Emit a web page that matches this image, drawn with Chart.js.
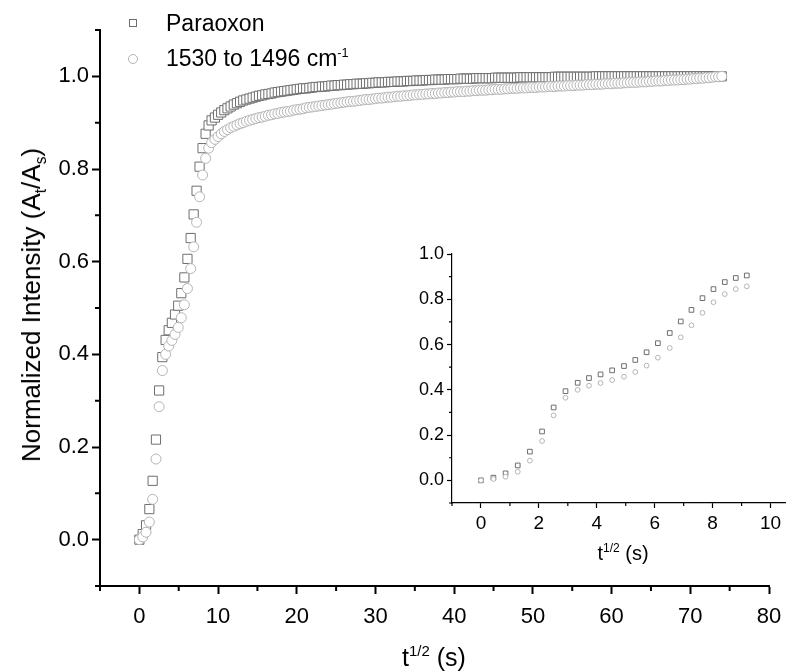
<!DOCTYPE html>
<html>
<head>
<meta charset="utf-8">
<script src="https://cdn.jsdelivr.net/npm/chart.js@4.4.1/dist/chart.umd.min.js"></script>
<style>
  html, body { margin: 0; padding: 0; background: #fff; }
  #wrap { position: relative; width: 792px; height: 672px; background: #fff; overflow: hidden;
          font-family: "Liberation Sans", Arial, sans-serif; color: #000; }
  canvas { position: absolute; }
  .lbl { position: absolute; white-space: nowrap; transform: translate(-50%, -50%); line-height: 1; }
  .lbl sup, .lbl sub { font-size: 60%; line-height: 0; }
  #yTitle { transform: translate(-50%, -50%) rotate(-90deg); }
  .leg { position: absolute; white-space: nowrap; font-size: 23px; line-height: 1; }
  .mk { position: absolute; box-sizing: border-box; background: #fff; }
</style>
</head>
<body>
<div id="wrap">
  <canvas id="mainChart" width="792" height="672" style="left:0;top:0"></canvas>
  <canvas id="insetChart" width="392" height="300" style="left:400px;top:236px"></canvas>

  <div class="lbl" id="xTitle" style="left:434px;top:657px;font-size:25px">t<sup>1/2</sup> (s)</div>
  <div class="lbl" id="yTitle" style="left:31px;top:305px;font-size:26px">Normalized Intensity (A<sub>t</sub>/A<sub>s</sub>)</div>
  <div class="lbl" id="insetTitle" style="left:623px;top:553px;font-size:20px">t<sup>1/2</sup> (s)</div>

  <div class="mk" id="mk0" style="left:129px;top:19px;width:8px;height:8px;border:1px solid #6e6e6e"></div>
  <div class="leg" id="leg0" style="left:166px;top:12px">Paraoxon</div>
  <div class="mk" id="mk1" style="left:128px;top:54px;width:10px;height:10px;border:1px solid #b4b4b4;border-radius:50%"></div>
  <div class="leg" id="leg1" style="left:166px;top:47px">1530 to 1496 cm<sup style="font-size:55%;vertical-align:super;line-height:0">-1</sup></div>
</div>

<script>
/* ===== data ===== */
// x = t^(1/2) (s), shared by both series
const xVals = [
  0, 0.43, 0.85, 1.27, 1.69, 2.11, 2.51, 2.92, 3.34, 3.73,
  4.13, 4.53, 4.94, 5.33, 5.72, 6.11, 6.52, 6.9, 7.27, 7.65,
  8.03, 8.42, 8.8, 9.18, 9.6, 10, 10.4, 10.8, 11.2, 11.6,
  12, 12.4, 12.8, 13.2, 13.6, 14, 14.4, 14.8, 15.2, 15.6,
  16, 16.4, 16.8, 17.2, 17.6, 18, 18.4, 18.8, 19.2, 19.6,
  20, 20.4, 20.8, 21.2, 21.6, 22, 22.4, 22.8, 23.2, 23.6,
  24, 24.4, 24.8, 25.2, 25.6, 26, 26.4, 26.8, 27.2, 27.6,
  28, 28.4, 28.8, 29.2, 29.6, 30, 30.4, 30.8, 31.2, 31.6,
  32, 32.4, 32.8, 33.2, 33.6, 34, 34.4, 34.8, 35.2, 35.6,
  36, 36.4, 36.8, 37.2, 37.6, 38, 38.4, 38.8, 39.2, 39.6,
  40, 40.4, 40.8, 41.2, 41.6, 42, 42.4, 42.8, 43.2, 43.6,
  44, 44.4, 44.8, 45.2, 45.6, 46, 46.4, 46.8, 47.2, 47.6,
  48, 48.4, 48.8, 49.2, 49.6, 50, 50.4, 50.8, 51.2, 51.6,
  52, 52.4, 52.8, 53.2, 53.6, 54, 54.4, 54.8, 55.2, 55.6,
  56, 56.4, 56.8, 57.2, 57.6, 58, 58.4, 58.8, 59.2, 59.6,
  60, 60.4, 60.8, 61.2, 61.6, 62, 62.4, 62.8, 63.2, 63.6,
  64, 64.4, 64.8, 65.2, 65.6, 66, 66.4, 66.8, 67.2, 67.6,
  68, 68.4, 68.8, 69.2, 69.6, 70, 70.4, 70.8, 71.2, 71.6,
  72, 72.4, 72.8, 73.2, 73.6, 74
];

// Paraoxon (squares)
const paraoxon = [
  0, 0.012, 0.031, 0.066, 0.127, 0.216, 0.322, 0.394, 0.431, 0.452,
  0.468, 0.486, 0.505, 0.532, 0.566, 0.606, 0.651, 0.702, 0.753, 0.805,
  0.845, 0.876, 0.894, 0.905, 0.911, 0.917, 0.922, 0.927, 0.931, 0.935,
  0.939, 0.942, 0.945, 0.948, 0.950, 0.952, 0.954, 0.956, 0.958, 0.959,
  0.961, 0.962, 0.963, 0.965, 0.966, 0.967, 0.968, 0.969, 0.970, 0.971,
  0.972, 0.973, 0.974, 0.974, 0.975, 0.976, 0.977, 0.977, 0.978, 0.978,
  0.979, 0.980, 0.980, 0.981, 0.981, 0.982, 0.982, 0.983, 0.983, 0.984,
  0.984, 0.984, 0.985, 0.985, 0.986, 0.986, 0.987, 0.987, 0.987, 0.988,
  0.988, 0.988, 0.989, 0.989, 0.989, 0.990, 0.990, 0.990, 0.991, 0.991,
  0.991, 0.992, 0.992, 0.992, 0.993, 0.993, 0.993, 0.993, 0.994, 0.994,
  0.994, 0.994, 0.995, 0.995, 0.995, 0.995, 0.995, 0.996, 0.996, 0.996,
  0.996, 0.996, 0.996, 0.997, 0.997, 0.997, 0.997, 0.997, 0.997, 0.997,
  0.997, 0.998, 0.998, 0.998, 0.998, 0.998, 0.998, 0.998, 0.998, 0.998,
  0.998, 0.998, 0.999, 0.999, 0.999, 0.999, 0.999, 0.999, 0.999, 0.999,
  0.999, 0.999, 0.999, 0.999, 0.999, 1.0, 1.0, 1.0, 1.0, 1.0,
  1.0, 1.0, 1.0, 1.0, 1.0, 1.0, 1.0, 1.0, 1.0, 1.0,
  1.0, 1.0, 1.0, 1.0, 1.0, 1.0, 1.0, 1.0, 1.0, 1.0,
  1.0, 1.0, 1.0, 1.0, 1.0, 1.0, 1.0, 1.0, 1.0, 1.0,
  1.0, 1.0, 1.0, 1.0, 1.0, 1.0
];

// 1530 to 1496 cm-1 band (circles)
const band1530 = [
  0, 0.006, 0.016, 0.038, 0.087, 0.174, 0.287, 0.365, 0.400, 0.418,
  0.430, 0.443, 0.458, 0.479, 0.507, 0.542, 0.585, 0.632, 0.685, 0.740,
  0.787, 0.823, 0.845, 0.857, 0.864, 0.870, 0.876, 0.881, 0.885, 0.889,
  0.892, 0.895, 0.898, 0.900, 0.903, 0.905, 0.907, 0.909, 0.911, 0.912,
  0.914, 0.916, 0.917, 0.919, 0.920, 0.922, 0.923, 0.924, 0.925, 0.927,
  0.928, 0.929, 0.930, 0.932, 0.933, 0.934, 0.935, 0.936, 0.937, 0.938,
  0.939, 0.940, 0.941, 0.942, 0.943, 0.944, 0.945, 0.946, 0.946, 0.947,
  0.948, 0.949, 0.950, 0.950, 0.951, 0.952, 0.953, 0.953, 0.954, 0.955,
  0.955, 0.956, 0.957, 0.957, 0.958, 0.958, 0.959, 0.960, 0.960, 0.961,
  0.961, 0.962, 0.962, 0.963, 0.963, 0.964, 0.964, 0.965, 0.965, 0.966,
  0.966, 0.967, 0.967, 0.967, 0.968, 0.968, 0.969, 0.969, 0.970, 0.970,
  0.970, 0.971, 0.971, 0.972, 0.972, 0.972, 0.973, 0.973, 0.974, 0.974,
  0.974, 0.975, 0.975, 0.975, 0.976, 0.976, 0.976, 0.977, 0.977, 0.977,
  0.978, 0.978, 0.978, 0.979, 0.979, 0.979, 0.980, 0.980, 0.980, 0.981,
  0.981, 0.981, 0.982, 0.982, 0.982, 0.983, 0.983, 0.983, 0.984, 0.984,
  0.984, 0.985, 0.985, 0.985, 0.986, 0.986, 0.987, 0.987, 0.987, 0.988,
  0.988, 0.988, 0.989, 0.989, 0.990, 0.990, 0.990, 0.991, 0.991, 0.992,
  0.992, 0.992, 0.993, 0.993, 0.994, 0.994, 0.995, 0.995, 0.996, 0.996,
  0.997, 0.997, 0.998, 0.999, 0.999, 1.0
];

const insetCount = 24; // inset shows the early points only

// tick values
const mainXTicks = [0, 10, 20, 30, 40, 50, 60, 70, 80];
const mainXMinor = [-5, 5, 15, 25, 35, 45, 55, 65, 75];
const mainYTicks = [0, 0.2, 0.4, 0.6, 0.8, 1.0];
const mainYMinor = [-0.1, 0.1, 0.3, 0.5, 0.7, 0.9, 1.1];
const insetXTicks = [0, 2, 4, 6, 8, 10];
const insetXMinor = [-1, 1, 3, 5, 7, 9];
const insetYTicks = [0, 0.2, 0.4, 0.6, 0.8, 1.0];
const insetYMinor = [-0.1, 0.1, 0.3, 0.5, 0.7, 0.9];

/* ===== helpers ===== */
Chart.defaults.font.family = '"Liberation Sans", Arial, sans-serif';
Chart.defaults.color = '#000';

function points(ys, n){
  return xVals.slice(0, n).map((x, i) => ({ x: x, y: ys[i] }));
}

// short ticks between the labelled ones
const minorTicks = {
  id: 'minorTicks',
  afterDraw(chart, args, opts){
    const ctx = chart.ctx;
    const xs = chart.scales.x, ys = chart.scales.y;
    ctx.save();
    ctx.strokeStyle = '#000';
    ctx.lineWidth = opts.width;
    ctx.beginPath();
    opts.x.forEach(v => {
      const px = xs.getPixelForValue(v);
      ctx.moveTo(px, xs.top); ctx.lineTo(px, xs.top + opts.len);
    });
    opts.y.forEach(v => {
      const py = ys.getPixelForValue(v);
      ctx.moveTo(ys.right, py); ctx.lineTo(ys.right - opts.len, py);
    });
    ctx.stroke();
    ctx.restore();
  }
};

function axis(min, max, major, o){
  return {
    type: 'linear', min: min, max: max,
    afterBuildTicks: s => { s.ticks = major.map(v => ({ value: v })); },
    afterFit: s => { if (o.w) s.width = o.w; if (o.h) s.height = o.h; },
    grid: { drawOnChartArea: false, tickLength: o.tick, tickColor: '#000', tickWidth: o.lw },
    border: { color: '#000', width: o.lw },
    ticks: { color: '#000', font: { size: o.font }, padding: o.pad, autoSkip: false, maxRotation: 0,
             callback: v => o.fixed ? v.toFixed(1) : String(v) }
  };
}

function series(label, ys, n, style, r, color, order){
  return {
    label: label, data: points(ys, n), showLine: false,
    pointStyle: style, pointRadius: r, pointHoverRadius: r,
    pointBorderWidth: 1, borderColor: color, backgroundColor: '#fff', order: order
  };
}

/* ===== main chart ===== */
new Chart(document.getElementById('mainChart'), {
  type: 'scatter',
  data: { datasets: [
    series('Paraoxon', paraoxon, xVals.length, 'rect', 6.5, '#6e6e6e', 2),
    series('1530 to 1496 cm-1', band1530, xVals.length, 'circle', 5, '#b4b4b4', 1)
  ]},
  options: {
    responsive: false, animation: false,
    layout: { padding: { top: 30, right: 23, left: 0, bottom: 0 } },
    scales: {
      x: axis(-5, 80, mainXTicks, { h: 86, tick: 8, lw: 2, font: 22, pad: 10 }),
      y: axis(-0.1, 1.1, mainYTicks, { w: 100, tick: 8, lw: 2, font: 22, pad: 3, fixed: true })
    },
    plugins: {
      legend: { display: false }, tooltip: { enabled: false },
      minorTicks: { x: mainXMinor, y: mainYMinor, len: 5, width: 2 }
    }
  },
  plugins: [minorTicks]
});

/* ===== inset ===== */
new Chart(document.getElementById('insetChart'), {
  type: 'scatter',
  data: { datasets: [
    series('Paraoxon', paraoxon, insetCount, 'rect', 3.3, '#6e6e6e', 2),
    series('1530 to 1496 cm-1', band1530, insetCount, 'circle', 2.4, '#b4b4b4', 1)
  ]},
  options: {
    responsive: false, animation: false,
    layout: { padding: { top: 18, right: 7, left: 0, bottom: 0 } },
    scales: {
      x: axis(-1, 10.5, insetXTicks, { h: 33, tick: 5, lw: 1.2, font: 19, pad: 4 }),
      y: axis(-0.1, 1.0, insetYTicks, { w: 52, tick: 5, lw: 1.2, font: 18, pad: 3, fixed: true })
    },
    plugins: {
      legend: { display: false }, tooltip: { enabled: false },
      minorTicks: { x: insetXMinor, y: insetYMinor, len: 3, width: 1.2 }
    }
  },
  plugins: [minorTicks]
});
</script>
</body>
</html>
